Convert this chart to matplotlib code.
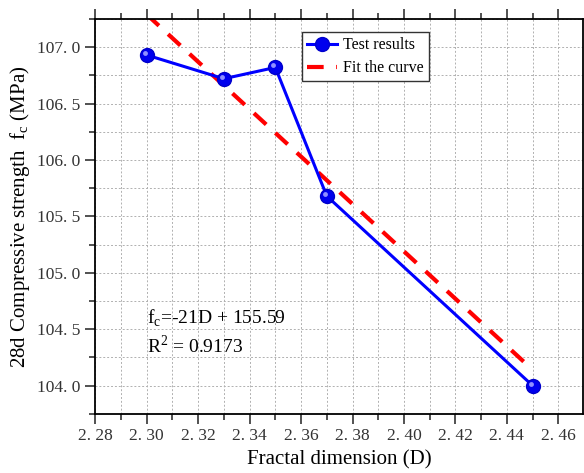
import numpy as np
import matplotlib.pyplot as plt
from matplotlib.ticker import MultipleLocator, FuncFormatter
from matplotlib.transforms import offset_copy

plt.rcParams['font.family'] = ['Liberation Serif', 'DejaVu Serif']

# data
D = [2.30, 2.33, 2.35, 2.37, 2.45]
fc = [106.93, 106.72, 106.82, 105.68, 104.00]
slope = -21
intercept = 155.59
fit_x = [2.30, 2.45]
r2 = 0.9173

fig = plt.figure(figsize=(5.84, 4.73), dpi=100)
ax = fig.add_axes([0.163, 0.125, 0.835, 0.835])

ax.plot(D, fc, color='#0000ff', lw=2.2, marker='o', ms=10,
        mfc='#0000ee', mec='#0000cc', label='Test results', zorder=3)
# small shine on the balls (up-left)
shine = offset_copy(ax.transData, fig=fig, x=-1.5, y=1.5, units='points')
ax.plot(D, fc, ls='none', marker='o', ms=3.5, mfc='#9090ff', mec='none',
        transform=shine, zorder=4)
fx = np.array(fit_x)
ax.plot(fx, slope * fx + intercept, color='red', lw=3, ls=(0, (4, 3)),
        label='Fit the curve', zorder=2)

ax.set_xlim(2.28, 2.4695)
ax.set_ylim(103.75, 107.25)
ax.xaxis.set_major_locator(MultipleLocator(0.02))
ax.xaxis.set_minor_locator(MultipleLocator(0.01))
ax.yaxis.set_major_locator(MultipleLocator(0.5))
ax.yaxis.set_minor_locator(MultipleLocator(0.25))
ax.xaxis.set_major_formatter(FuncFormatter(lambda v, p: '%.0f. %02d' % (np.floor(v + 1e-9), round((v - np.floor(v + 1e-9)) * 100))))
ax.yaxis.set_major_formatter(FuncFormatter(lambda v, p: '%d. %d' % (int(v + 1e-9), round((v - int(v + 1e-9)) * 10))))

ax.grid(True, which='both', color='#b0b0b0', ls=(0, (2, 2)), lw=0.7)
ax.tick_params(which='both', direction='out', top=True, right=False,
               labelsize=12.5, colors='#333333')
ax.tick_params(which='major', length=7, width=1.2)
ax.tick_params(which='minor', length=4, width=1.2)
for s in ax.spines.values():
    s.set_linewidth(1.3)

ax.set_xlabel('Fractal dimension (D)', fontsize=15)
ax.set_ylabel(r'28d Compressive strength  f$_\mathregular{c}$ (MPa)', fontsize=15)

ax.text(2.30, 104.60, r'f$_\mathregular{c}$=-21D + 155.59', fontsize=14, va='center')
ax.text(2.30, 104.35, r'R$^\mathregular{2}$ = %.4f' % r2, fontsize=14, va='center')

leg = ax.legend(loc='upper left', bbox_to_anchor=(0.424, 0.966), fontsize=11.5,
                fancybox=False, edgecolor='#333333', framealpha=1,
                handlelength=1.9, borderpad=0.3, labelspacing=0.45,
                handletextpad=0.4, borderaxespad=0)
leg.get_frame().set_linewidth(1.0)

fig.savefig('out.png', dpi=100)
